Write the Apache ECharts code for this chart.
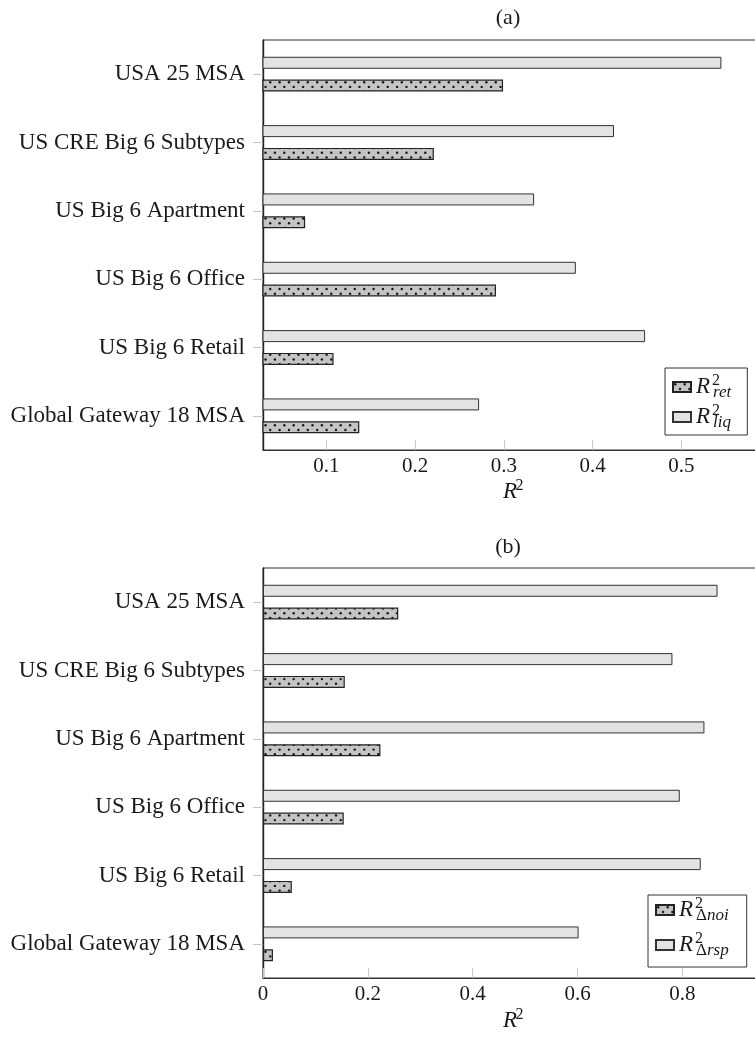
<!DOCTYPE html>
<html>
<head>
<meta charset="utf-8">
<script src="https://cdn.jsdelivr.net/npm/echarts@6/dist/echarts.min.js"></script>
<style>
  html, body { margin: 0; padding: 0; overflow: hidden; background: #ffffff; }
  #chart { width: 780px; height: 1037px; }
</style>
</head>
<body>
<div id="chart"></div>
<script>
// Markets / subtypes, listed top to bottom
const categories = [
  'USA 25 MSA',
  'US CRE Big 6 Subtypes',
  'US Big 6 Apartment',
  'US Big 6 Office',
  'US Big 6 Retail',
  'Global Gateway 18 MSA'
];

// Panel (a): explanatory power for returns and liquidity
const retR2 = [0.299, 0.221, 0.076, 0.291, 0.108, 0.137];
const liqR2 = [0.545, 0.424, 0.334, 0.381, 0.459, 0.272];

// Panel (b): explanatory power for NOI growth and risk-premium changes
const noiR2 = [0.258, 0.156, 0.224, 0.154, 0.055, 0.019];
const rspR2 = [0.867, 0.781, 0.842, 0.795, 0.835, 0.602];

// Tick values of the two R^2 axes
const ticksA = [0.1, 0.2, 0.3, 0.4, 0.5];
const ticksB = [0, 0.2, 0.4, 0.6, 0.8];

const SERIF = 'Liberation Serif';
const INK = '#1a1a1a';

// Grey fill with staggered black dots for the first series of each panel
function dotPattern() {
  const size = 47, step = 9.4;
  const c = document.createElement('canvas');
  c.width = size; c.height = size;
  const g = c.getContext('2d');
  g.fillStyle = '#c4c4c4';
  g.fillRect(0, 0, size, size);
  g.fillStyle = '#151515';
  for (let i = 0; i < 5; i++) {
    for (let j = 0; j < 5; j++) {
      [[i * step + 2.3, j * step + 2.3], [i * step + 7.0, j * step + 7.0]].forEach(([x, y]) => {
        g.beginPath();
        g.arc(x, y, 1.2, 0, Math.PI * 2);
        g.fill();
      });
    }
  }
  return c;
}
const dots = { image: dotPattern(), repeat: 'repeat' };

// R with stacked superscript / subscript
const mathRich = {
  r:   { fontFamily: SERIF, fontStyle: 'italic', fontSize: 23, lineHeight: 28, verticalAlign: 'middle', color: INK },
  sp:  { fontFamily: SERIF, fontSize: 16, lineHeight: 14, verticalAlign: 'top', width: 1, padding: [0, 0, 0, 2], color: INK },
  sb:  { fontFamily: SERIF, fontStyle: 'italic', fontSize: 17, lineHeight: 12, verticalAlign: 'bottom', color: INK },
  sbd: { fontFamily: SERIF, fontSize: 17, lineHeight: 12, verticalAlign: 'bottom', color: INK }
};
const legendText = {
  'R2ret':  '{r|R}{sp|2}{sb|ret}',
  'R2liq':  '{r|R}{sp|2}{sb|liq}',
  'R2Δnoi': '{r|R}{sp|2}{sbd|Δ}{sb|noi}',
  'R2Δrsp': '{r|R}{sp|2}{sbd|Δ}{sb|rsp}'
};

function gridBox(top) {
  return {
    left: 263, top: top, width: 497, height: 410,
    show: true, borderColor: '#333333', borderWidth: 1,
    backgroundColor: 'transparent',
    containLabel: false, outerBoundsMode: 'none'
  };
}

function catAxis(gridIndex) {
  return {
    type: 'category', gridIndex: gridIndex, data: categories, inverse: true,
    axisLine: { show: true, lineStyle: { color: '#222222', width: 1.4 } },
    axisTick: { show: true, alignWithLabel: true, inside: false, length: 10, lineStyle: { color: '#c4c4c4', width: 1 } },
    axisLabel: { margin: 18, fontFamily: SERIF, fontSize: 23, color: INK },
    splitLine: { show: false }
  };
}

function valAxis(gridIndex, min, max, ticks, nameGap) {
  return {
    type: 'value', gridIndex: gridIndex, min: min, max: max, position: 'bottom',
    name: '{r|R}{sp|2}', nameLocation: 'middle', nameGap: nameGap,
    nameTextStyle: { rich: mathRich },
    axisLine: { show: true, onZero: false, lineStyle: { color: '#333333', width: 1 } },
    axisTick: { show: true, inside: true, length: 10, customValues: ticks, lineStyle: { color: '#c8c8c8', width: 1 } },
    axisLabel: {
      customValues: ticks, margin: 6, fontFamily: SERIF, fontSize: 21, color: INK,
      formatter: v => (v === 0 ? '0' : v.toFixed(1))
    },
    splitLine: { show: false }
  };
}

function legendBox(names, left, top, padding, gap) {
  return {
    data: names, orient: 'vertical', left: left, top: top,
    padding: padding, itemGap: gap, itemWidth: 18, itemHeight: 10,
    icon: 'rect', selectedMode: false,
    backgroundColor: '#ffffff', borderColor: '#333333', borderWidth: 1, borderRadius: 0,
    formatter: n => legendText[n],
    textStyle: { rich: mathRich }
  };
}

const plainBar = { color: '#e3e3e3', borderColor: '#333333', borderWidth: 1 };
const dotBar = { color: dots, borderColor: '#222222', borderWidth: 1.2 };

const option = {
  animation: false,
  backgroundColor: '#ffffff',
  graphic: [
    { type: 'text', x: 508, y: 18, style: { text: '(a)', font: '22px "Liberation Serif"', fill: INK, textAlign: 'center', textVerticalAlign: 'middle' } },
    { type: 'text', x: 508, y: 547, style: { text: '(b)', font: '22px "Liberation Serif"', fill: INK, textAlign: 'center', textVerticalAlign: 'middle' } }
  ],
  grid: [gridBox(40), gridBox(568)],
  xAxis: [
    valAxis(0, 0.0285, 0.5885, ticksA, 25),
    valAxis(1, 0, 0.948, ticksB, 29)
  ],
  yAxis: [catAxis(0), catAxis(1)],
  legend: [
    legendBox(['R2ret', 'R2liq'], 665, 368, [5, 16, 4, 7], 2),
    legendBox(['R2Δnoi', 'R2Δrsp'], 648, 895, [1, 18, 8, 7], 7)
  ],
  series: [
    { name: 'R2liq', type: 'bar', xAxisIndex: 0, yAxisIndex: 0, data: liqR2, barWidth: 12, barGap: '90%', itemStyle: plainBar },
    { name: 'R2ret', type: 'bar', xAxisIndex: 0, yAxisIndex: 0, data: retR2, barWidth: 12, barGap: '90%', itemStyle: dotBar },
    { name: 'R2Δrsp', type: 'bar', xAxisIndex: 1, yAxisIndex: 1, data: rspR2, barWidth: 12, barGap: '90%', itemStyle: plainBar },
    { name: 'R2Δnoi', type: 'bar', xAxisIndex: 1, yAxisIndex: 1, data: noiR2, barWidth: 12, barGap: '90%', itemStyle: dotBar }
  ]
};

const chart = echarts.init(document.getElementById('chart'), null, { renderer: 'canvas' });
chart.setOption(option);
</script>
</body>
</html>
